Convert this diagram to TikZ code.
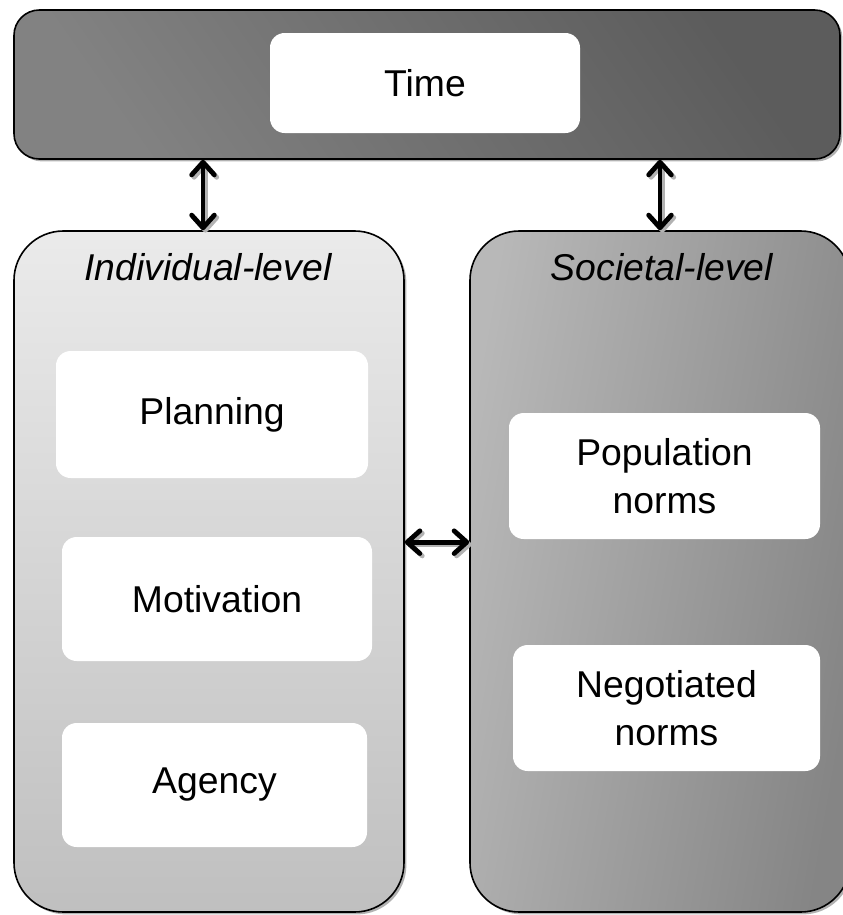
\documentclass[tikz,border=0pt]{standalone}
\usepackage{fontspec}
\setmainfont{Liberation Sans}
\usetikzlibrary{arrows.meta,shadows}

\tikzset{every picture/.style={line width=0.75pt}}
\tikzset{
  panel/.style={draw=black, line width=1.2pt, rounded corners=37pt, drop shadow={shadow xshift=1.8pt, shadow yshift=-1.8pt, fill=black!30, opacity=1}},
  item/.style={fill=white, rounded corners=11pt, align=center, font=\fontsize{28}{35.5}\selectfont},
  title/.style={font=\fontsize{28}{35}\selectfont\itshape},
  barb/.tip={Straight Barb[length=9.5pt,width=17pt,line width=3.6pt,round]},
  link/.style={line width=3.6pt, {barb}-{barb}},
}

\begin{document}
\begin{tikzpicture}[x=0.75pt,y=0.75pt,yscale=-1,xscale=1]
\useasboundingbox (0,0) rectangle (843,915);

%Rounded Rect: time bar
\node[panel, rounded corners=19pt, minimum width=619.5pt, minimum height=111.75pt, left color=black!49, right color=black!64, shading angle=125] (bar) at (427,84.5) {};
\node[item, minimum width=232.5pt, minimum height=75pt] (time) at (425,83) {Time};

%Rounded Rect: individual panel
\node[panel, minimum width=292.5pt, minimum height=510.75pt, top color=black!8, bottom color=black!25] (lp) at (209,571.5) {};
%Rounded Rect: societal panel
\node[panel, minimum width=285pt, minimum height=510.75pt, left color=black!28, right color=black!48, shading angle=80] (rp) at (660,571.5) {};

\node[title] (lt) at (208,267) {Individual-level};
\node[title] (rt) at (662,267) {Societal-level};

%Boxes: individual
\node[item, minimum width=234pt, minimum height=95.25pt] (plan) at (212,414.5) {Planning};
\node[item, minimum width=232.5pt, minimum height=93pt] (motiv) at (217,599) {Motivation};
\node[item, minimum width=228.75pt, minimum height=93pt] (agency) at (214.5,785) {Agency};

%Boxes: societal
\node[item, minimum width=233.25pt, minimum height=94.5pt] (popn) at (664.5,476) {Population\\norms};
\node[item, minimum width=230.25pt, minimum height=94.5pt] (negn) at (666.5,708) {Negotiated\\norms};

%Arrows (shadow first)
\begin{scope}[transform canvas={xshift=1.8pt,yshift=-1.8pt}]
\draw[link, draw=black!30] ([xshift=-4.5pt]lp.north) -- ([xshift=-4.5pt]lp.north |- bar.south);
\draw[link, draw=black!30] (rp.north) -- (rp.north |- bar.south);
\draw[link, draw=black!30] ([yshift=-22pt]lp.east) -- ([yshift=-22pt]rp.west);
\end{scope}
\draw[link] ([xshift=-4.5pt]lp.north) -- ([xshift=-4.5pt]lp.north |- bar.south);
\draw[link] (rp.north) -- (rp.north |- bar.south);
\draw[link] ([yshift=-22pt]lp.east) -- ([yshift=-22pt]rp.west);

\end{tikzpicture}
\end{document}
